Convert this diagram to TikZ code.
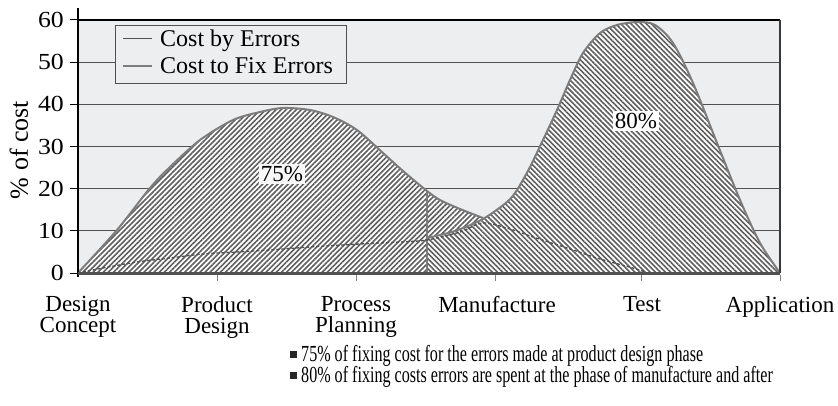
\documentclass[tikz,border=0pt]{standalone}
\usepackage{fontspec}
\setmainfont{Liberation Serif}
\newfontfamily\condfont[FakeStretch=0.70]{Liberation Serif}
\newfontfamily\widefont[FakeStretch=1.12]{Liberation Serif}
\usetikzlibrary{patterns.meta}
\definecolor{bg}{HTML}{EDEEF0}
\definecolor{hatch}{HTML}{5E5E5E}
\definecolor{edge}{HTML}{7C7C7C}
\definecolor{gridc}{HTML}{505050}
\begin{document}
\begin{tikzpicture}[x=1pt,y=-1pt,
  lbl/.style={font=\fontsize{23}{21}\selectfont, inner sep=0pt},
  ticklbl/.style={font=\widefont\fontsize{23}{21}\selectfont, inner sep=0pt, anchor=east},
  leglbl/.style={font=\fontsize{24}{22}\selectfont, inner sep=0pt, anchor=base west},
  bullettxt/.style={font=\condfont\fontsize{23}{21}\selectfont, inner sep=0pt, anchor=base west},
  gridline/.style={gridc, line width=1pt},
  hatchA/.style={preaction={fill=white}, pattern={Lines[angle=45,distance=3.6pt,line width=1.6pt]}, pattern color=hatch},
  hatchB/.style={preaction={fill=white}, pattern={Lines[angle=-45,distance=3.6pt,line width=1.6pt]}, pattern color=hatch},
  fixline/.style={edge, line width=2pt},
  errline/.style={gridc, line width=1.3pt, dash pattern=on 3pt off 2pt},
  pct/.style={lbl, fill=#1, inner sep=2pt},
  bulletsq/.style={fill=black!85, minimum size=7pt, inner sep=0pt}]
\useasboundingbox (0,0) rectangle (838,406);
% plot background
\fill[bg] (78,20) rectangle (780,273);
% grid lines and y tick labels
\foreach \v in {0,10,20,30,40,50,60}{
  \pgfmathsetmacro{\yy}{273-4.2167*\v}
  \draw[black, line width=1pt] (70,\yy) -- (78,\yy);
  \node[ticklbl] (yl\v) at (64,\yy) {\v};
}
\foreach \v in {10,20,30,40,50}{
  \pgfmathsetmacro{\yy}{273-4.2167*\v}
  \draw[gridline] (78,\yy) -- (780,\yy);
}
% first hump: cost to fix errors (product design)
\path[hatchA] plot[smooth, tension=0.5] coordinates {(78,273) (117,230) (150,188) (170,167) (200,140) (233,120) (260,112) (283,108) (310,110) (333,117) (357,130) (383,153) (403,171) (427,191) (440,200) (460,209) (483,218)} -- (483,273) -- cycle;
\draw[fixline] plot[smooth, tension=0.5] coordinates {(78,273) (117,230) (150,188) (170,167) (200,140) (233,120) (260,112) (283,108) (310,110) (333,117) (357,130) (383,153) (403,171) (427,191) (440,200) (460,209) (483,218)};
% second hump: cost to fix errors (manufacture and after)
\path[hatchB] (427,273) -- plot[smooth, tension=0.5] coordinates {(427,238) (455,231) (483,219) (507,202) (517,190) (530,167) (543,140) (557,110) (570,80) (583,53) (600,33) (617,25) (638,22) (655,25) (673,43) (693,83) (717,143) (740,200) (760,243) (780,273)} -- cycle;
\draw[fixline] plot[smooth, tension=0.5] coordinates {(427,238) (455,231) (483,219) (507,202) (517,190) (530,167) (543,140) (557,110) (570,80) (583,53) (600,33) (617,25) (638,22) (655,25) (673,43) (693,83) (717,143) (740,200) (760,243) (780,273)};
\coordinate (vb) at (427,273);
\coordinate (vt) at (427,191);
\draw[fixline] (vb) -- (vt);
% cost by errors
\draw[errline] plot[smooth, tension=0.5] coordinates {(78,273) (103,268) (137,262) (170,258) (203,254) (237,252) (270,250) (310,247) (360,244) (400,242) (427,240) (460,232) (483,223) (510,229) (533,237) (567,248) (600,259) (633,268) (645,272)};
% axes
\draw[black, line width=2.5pt] (78,20) -- (780,20);
\draw[gridc!70!black, line width=1.2pt] (780,20) -- (780,273);
\draw[black, line width=1.2pt] (78,8) -- (78,277);
\draw[gridc, line width=3pt] (78,273) -- (780,273);
\foreach \x in {217,356,495,641,780}{
  \draw[gray, line width=1pt] (\x,275) -- (\x,281);
}
% x labels
\node[lbl, anchor=north, align=center] (x1) at (78,296) {Design\\Concept};
\node[lbl, anchor=north, align=center] (x2) at (217,296) {Product\\Design};
\node[lbl, anchor=north, align=center] (x3) at (356,296) {Process\\Planning};
\node[lbl, anchor=north, align=center] (x4) at (497,296) {Manufacture};
\node[lbl, anchor=north, align=center] (x5) at (642,296) {Test};
\node[lbl, anchor=north, align=center] (x6) at (780,296) {Application};
% y label
\node[lbl, font=\fontsize{26}{26}\selectfont, rotate=90] (ylab) at (19,150) {\% of cost};
% percentages
\node[pct=white!60!bg] (p75) at (282,174) {75\%};
\node[pct=white] (p80) at (636,121) {80\%};
% legend
\node[draw=gridc, line width=1pt, fill=bg, minimum width=231pt, minimum height=58pt, anchor=north west, inner sep=0pt] (leg) at (115,25) {};
\draw[gridc, line width=1pt] (123,39) -- (152,39);
\draw[edge, line width=2.5pt] (123,66) -- (152,66);
\node[leglbl] (leg1) at (160,47) {Cost by Errors};
\node[leglbl] (leg2) at (160,74) {Cost to Fix Errors};
% bullets
\node[bulletsq] (s1) at (293,354) {};
\node[bullettxt] (b1) at (301,361) {75\% of fixing cost for the errors made at product design phase};
\node[bulletsq] (s2) at (293,375) {};
\node[bullettxt] (b2) at (301,382) {80\% of fixing costs errors are spent at the phase of manufacture and after};
\end{tikzpicture}
\end{document}
